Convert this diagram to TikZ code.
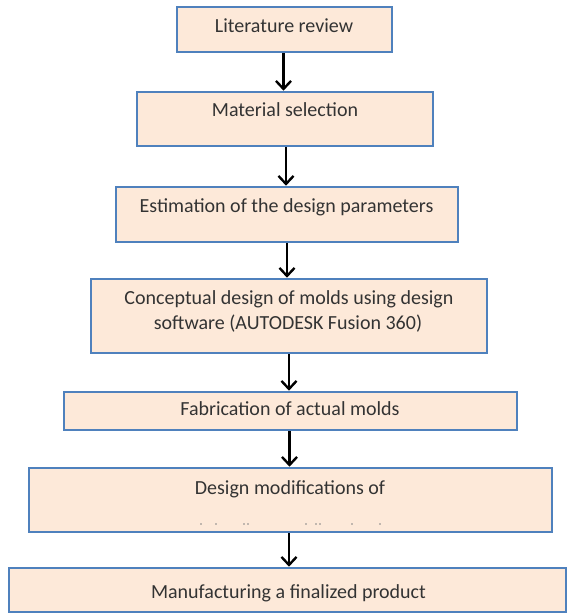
\documentclass[tikz,border=0pt]{standalone}
\usepackage{fontspec}
\setmainfont{Carlito}
\usetikzlibrary{arrows.meta}
\definecolor{boxblue}{HTML}{4F81BD}
\definecolor{boxfill}{HTML}{FDE9D9}
\definecolor{txtgray}{HTML}{333333}
\tikzset{
  stepbox/.style={draw=boxblue, line width=2.6pt, fill=boxfill, inner sep=0pt},
  steptext/.style={text=txtgray, font=\fontsize{20}{24.5}\selectfont, inner sep=0pt, anchor=base},
  flowarrow/.style={draw=black, line width=2.4pt, -{Straight Barb[length=8pt,width=15pt]}},
  dotmark/.style={fill=txtgray!60, draw=none, circle, inner sep=0pt, minimum size=1.6pt}
}
\begin{document}
\begin{tikzpicture}[x=1pt,y=-1pt]
\useasboundingbox (0,0) rectangle (567,613);
% boxes
\node[stepbox, minimum width=215pt, minimum height=45pt] (b1) at (284.5,29.5) {};
\node[stepbox, minimum width=296pt, minimum height=54pt] (b2) at (285,119) {};
\node[stepbox, minimum width=342pt, minimum height=55pt] (b3) at (287,214.5) {};
\node[stepbox, minimum width=396pt, minimum height=74pt] (b4) at (289,316) {};
\node[stepbox, minimum width=453pt, minimum height=38pt] (b5) at (290.5,411) {};
\node[stepbox, minimum width=523pt, minimum height=64pt] (b6) at (290.5,500) {};
\node[stepbox, minimum width=557pt, minimum height=44pt] (b7) at (287.5,590) {};
% texts
\node[steptext] (t1) at (284,32) {Literature review};
\node[steptext] (t2) at (285,116) {Material selection};
\node[steptext] (t3) at (286.5,212) {Estimation of the design parameters};
\node[steptext] (t4a) at (289,304) {Conceptual design of molds using design};
\node[steptext] (t4b) at (288,329) {software (AUTODESK Fusion 360)};
\node[steptext] (t5) at (290,415) {Fabrication of actual molds};
\node[steptext] (t6) at (290,494) {Design modifications of};
\node[steptext] (t7) at (288.5,598) {Manufacturing a finalized product};
% faint remnants of a cut-off line
\foreach \dx/\nm in {201/d1,216/d2,244/d3,248/d4,306/d5,316/d6,320/d7,352/d8,380/d9}
  \node[dotmark] (\nm) at (\dx,524) {};
% arrows
\draw[flowarrow] (b1.south) ++(-1,0) coordinate (a1s) -- (a1s |- b2.north);
\draw[flowarrow] (b2.south) ++(1,0) coordinate (a2s) -- (a2s |- b3.north);
\draw[flowarrow] (b3.south) coordinate (a3s) -- (a3s |- b4.north);
\draw[flowarrow] (b4.south) coordinate (a4s) -- (a4s |- b5.north);
\draw[flowarrow] (b5.south) ++(-1,0) coordinate (a5s) -- (a5s |- b6.north);
\draw[flowarrow] (b6.south) ++(-1.5,0) coordinate (a6s) -- (a6s |- b7.north);
\end{tikzpicture}
\end{document}
